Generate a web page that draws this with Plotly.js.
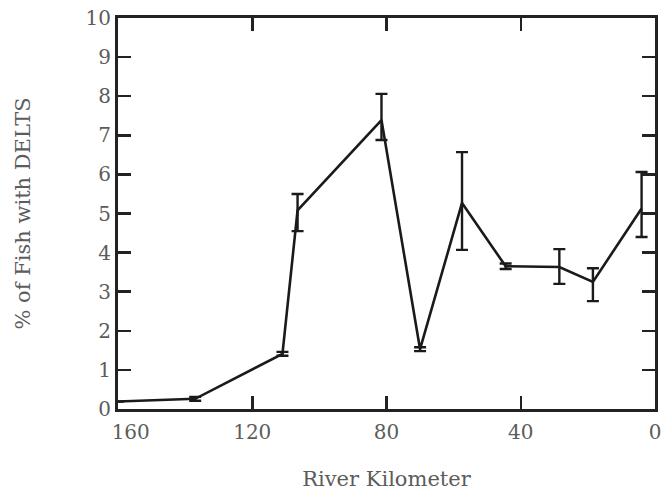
<!DOCTYPE html>
<html>
<head>
<meta charset="utf-8">
<script src="https://cdn.plot.ly/plotly-3.0.1.min.js"></script>
<style>html,body{margin:0;padding:0;background:#fff;}#chart{width:662px;height:491px;}</style>
</head>
<body>
<div id="chart"></div>
<script>
// River kilometer of each sampling site
const riverKm = [160, 137, 111, 106.5, 81.5, 70, 57.5, 44.5, 28.5, 18.5, 4];
// % of fish with DELTS
const pctDelts = [0.19, 0.26, 1.41, 5.08, 7.39, 1.53, 5.27, 3.65, 3.63, 3.25, 5.13];
// error bar extents (upper / lower)
const errUpper = [0, 0.05, 0.05, 0.42, 0.67, 0.05, 1.30, 0.07, 0.46, 0.35, 0.93];
const errLower = [0, 0.05, 0.05, 0.53, 0.51, 0.05, 1.20, 0.07, 0.43, 0.49, 0.73];
const xTicks = [160, 120, 80, 40, 0];
const xTickText = ['\u00a0\u00a0\u00a0\u00a0160', '120', '80', '40', '0'];
const yTicks = [0, 1, 2, 3, 4, 5, 6, 7, 8, 9, 10];

const font = "DejaVu Serif, serif";
const grey = '#5c5c5c';
const trace = {
  x: riverKm, y: pctDelts, type: 'scatter', mode: 'lines',
  line: {color: '#1a1a1a', width: 2.6},
  error_y: {type: 'data', symmetric: false, array: errUpper, arrayminus: errLower,
            color: '#1a1a1a', thickness: 2.4, width: 6}
};
const layout = {
  width: 662, height: 491,
  margin: {l: 118, r: 7, t: 18, b: 82},
  paper_bgcolor: '#fff', plot_bgcolor: '#fff',
  showlegend: false,
  font: {family: font, size: 20, color: grey},
  xaxis: {
    range: [160, 0], tickvals: xTicks, ticktext: xTickText,
    ticks: 'inside', ticklen: 13, tickwidth: 2.5, tickcolor: '#222',
    ticklabelstandoff: 3,
    showline: true, linecolor: '#222', linewidth: 3, mirror: 'ticks',
    showgrid: false, zeroline: false,
    tickfont: {family: font, size: 20, color: grey},
    title: {text: 'River Kilometer', standoff: 30, font: {family: font, size: 21, color: grey}}
  },
  yaxis: {
    range: [0, 10], tickvals: yTicks, ticktext: yTicks.map(String),
    ticks: 'inside', ticklen: 13, tickwidth: 2.5, tickcolor: '#222',
    showline: true, linecolor: '#222', linewidth: 3, mirror: 'ticks',
    showgrid: false, zeroline: false,
    tickfont: {family: font, size: 20, color: grey},
    title: {text: '% of Fish with DELTS', standoff: 50, font: {family: font, size: 21, color: grey}}
  }
};
Plotly.newPlot('chart', [trace], layout, {displayModeBar: false, staticPlot: true});
</script>
</body>
</html>
